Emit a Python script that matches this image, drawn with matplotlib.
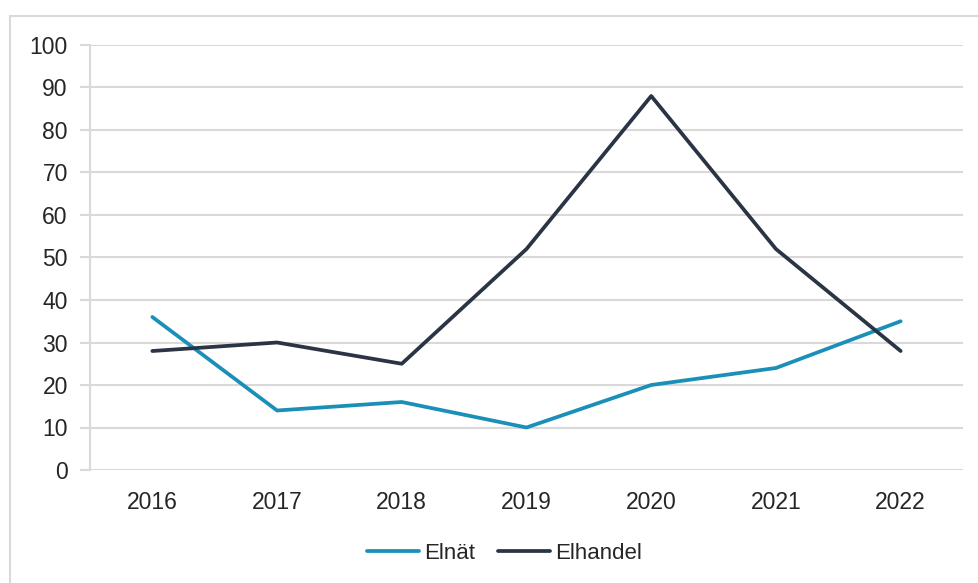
import matplotlib.pyplot as plt
from matplotlib.patches import Rectangle

# Data
years = ['2016', '2017', '2018', '2019', '2020', '2021', '2022']
elnat = [36, 14, 16, 10, 20, 24, 35]
elhandel = [28, 30, 25, 52, 88, 52, 28]

grid_col = '#D9D9D9'

plt.rcParams['font.family'] = ['Liberation Sans', 'DejaVu Sans']

fig = plt.figure(figsize=(9.79, 5.83), dpi=100)
ax = fig.add_axes([90 / 979, 113 / 583, 873 / 979, 425 / 583])

# outer chart border
fig.patches.append(Rectangle((10 / 979, -0.01), 1.0, (583 - 16) / 583 + 0.01,
                             transform=fig.transFigure, fill=False,
                             edgecolor=grid_col, linewidth=1.5))

x = range(len(years))
ax.plot(x, elnat, color='#1A8FB8', lw=2.7, solid_capstyle='round', label='Elnät', zorder=3)
ax.plot(x, elhandel, color='#2B3445', lw=2.7, solid_capstyle='round', label='Elhandel', zorder=3)

ax.set_xlim(-0.5, len(years) - 0.5)
ax.set_ylim(0, 100)
ax.set_yticks(range(0, 101, 10))
ax.set_xticks(list(x))
ax.set_xticklabels(years)

ax.grid(axis='y', color=grid_col, lw=1.5)
ax.set_axisbelow(True)
for s in ['top', 'right', 'bottom']:
    ax.spines[s].set_visible(False)
ax.spines['left'].set_color(grid_col)
ax.spines['left'].set_linewidth(1.5)

ax.tick_params(axis='y', length=7, width=1.5, color=grid_col, labelsize=16.5,
               labelcolor='#262626', pad=9)
ax.tick_params(axis='x', length=0, labelsize=16.5, labelcolor='#262626', pad=15)

leg = ax.legend(loc='upper center', bbox_to_anchor=(0.475, -0.125), ncol=2,
                frameon=False, fontsize=16, handlelength=2.3, handletextpad=0.25,
                columnspacing=1.05)
for t in leg.get_texts():
    t.set_color('#262626')

fig.savefig('out.png', dpi=100)
